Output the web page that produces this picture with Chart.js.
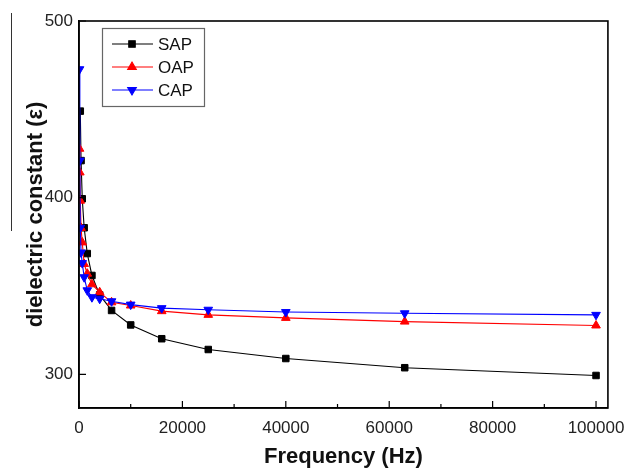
<!DOCTYPE html>
<html>
<head>
<meta charset="utf-8">
<script src="https://cdn.jsdelivr.net/npm/chart.js@4.4.1/dist/chart.umd.min.js"></script>
<style>
    html, body { margin: 0; padding: 0; background: #fff; }
    #wrap { width: 635px; height: 468px; }
</style>
</head>
<body>
<div id="wrap"><canvas id="dielectricChart" width="635" height="468"></canvas></div>
<script>
// frequency sweep (Hz) and dielectric constant per sample
const frequencies = [100, 160, 250, 400, 630, 1000, 1600, 2500, 4000, 6300, 10000, 16000, 25000, 40000, 63000, 100000];
const sapValues = [null, null, 449, 421, 399.4, 383, 368.4, 356, 345, 336.2, 328, 320.2, 314.1, 309, 303.8, 299.4];
const oapValues = [427.7, 414.3, 398.3, 382.9, 374.7, 362.5, 357, 351, 346.5, 340.8, 339, 335.8, 333.7, 332, 329.9, 327.7];
const capValues = [472.7, 421, 383, 369, 363, 355, 347.6, 343.7, 342.8, 341.4, 339.5, 337.5, 336.6, 335.3, 334.6, 333.7];
const seriesNames = ["SAP", "OAP", "CAP"];

const xTickLabels = [0, 20000, 40000, 60000, 80000, 100000];
const xMinorTicks = [10000, 30000, 50000, 70000, 90000];
const yTickLabels = [300, 400, 500];

const fontFamily = 'Arial, "Liberation Sans", sans-serif';

function toPoints(values) {
    return frequencies.map((f, i) => ({ x: f, y: values[i] }));
}

// frame, inward ticks, legend box
const framePlugin = {
    id: "frame",
    afterDraw(chart) {
        const ctx = chart.ctx;
        const a = chart.chartArea;
        const xs = chart.scales.x;
        const ys = chart.scales.y;

        ctx.save();
        ctx.strokeStyle = "#000";
        ctx.lineWidth = 1.6;
        ctx.strokeRect(a.left, a.top, a.right - a.left, a.bottom - a.top);

        ctx.lineWidth = 1.2;
        ctx.beginPath();
        xTickLabels.forEach(v => {
            const px = xs.getPixelForValue(v);
            ctx.moveTo(px, a.bottom);
            ctx.lineTo(px, a.bottom - 7);
        });
        xMinorTicks.forEach(v => {
            const px = xs.getPixelForValue(v);
            ctx.moveTo(px, a.bottom);
            ctx.lineTo(px, a.bottom - 4);
        });
        yTickLabels.forEach(v => {
            const py = ys.getPixelForValue(v);
            ctx.moveTo(a.left, py);
            ctx.lineTo(a.left + 7, py);
        });
        ctx.stroke();

        // stray rule left of the axis title in the original figure
        ctx.strokeStyle = "#333";
        ctx.lineWidth = 1;
        ctx.beginPath();
        ctx.moveTo(11.5, 13);
        ctx.lineTo(11.5, 231);
        ctx.stroke();

        // legend
        ctx.strokeStyle = "#666";
        ctx.lineWidth = 1.2;
        ctx.strokeRect(102.5, 28.5, 102, 78);

        ctx.font = "17px " + fontFamily;
        ctx.textBaseline = "middle";
        ctx.textAlign = "left";
        const rows = [44, 67, 90];
        chart.data.datasets.forEach((ds, i) => {
            const y = rows[i];
            ctx.strokeStyle = ds.borderColor;
            ctx.fillStyle = ds.backgroundColor;
            ctx.lineWidth = 1.1;
            ctx.beginPath();
            ctx.moveTo(112, y);
            ctx.lineTo(153, y);
            ctx.stroke();
            Chart.helpers.drawPoint(ctx, {
                pointStyle: ds.pointStyle,
                radius: ds.pointRadius,
                rotation: ds.pointRotation || 0,
                borderWidth: 1
            }, 132, y);
            ctx.fillStyle = "#111";
            ctx.fillText(ds.label, 158, y + 1);
        });
        ctx.restore();
    }
};

const ctx = document.getElementById("dielectricChart").getContext("2d");

new Chart(ctx, {
    type: "line",
    data: {
        datasets: [
            {
                label: seriesNames[0],
                data: toPoints(sapValues),
                borderColor: "#000000",
                backgroundColor: "#000000",
                pointStyle: "rect",
                pointRadius: 4.6,
                borderWidth: 1.1,
                pointBorderWidth: 1,
                order: 2
            },
            {
                label: seriesNames[1],
                data: toPoints(oapValues),
                borderColor: "#ff0000",
                backgroundColor: "#ff0000",
                pointStyle: "triangle",
                pointRadius: 5,
                borderWidth: 1.1,
                pointBorderWidth: 1,
                order: 1
            },
            {
                label: seriesNames[2],
                data: toPoints(capValues),
                borderColor: "#0000ff",
                backgroundColor: "#0000ff",
                pointStyle: "triangle",
                pointRotation: 180,
                pointRadius: 5,
                borderWidth: 1.1,
                pointBorderWidth: 1,
                order: 0
            }
        ]
    },
    options: {
        responsive: false,
        animation: false,
        devicePixelRatio: 1,
        layout: { padding: { top: 21, right: 27, left: 0, bottom: 0 } },
        plugins: {
            legend: { display: false },
            tooltip: { enabled: false }
        },
        scales: {
            x: {
                type: "linear",
                min: 0,
                max: 102300,
                afterBuildTicks: s => { s.ticks = xTickLabels.map(v => ({ value: v })); },
                afterFit: s => { s.height = 60; },
                grid: { display: false, drawTicks: false },
                border: { display: true, color: "#000", width: 1.6 },
                ticks: {
                    padding: 10,
                    color: "#222",
                    maxRotation: 0,
                    autoSkip: false,
                    font: { family: fontFamily, size: 17 },
                    callback: v => String(v)
                },
                title: {
                    display: true,
                    text: "Frequency (Hz)",
                    color: "#111",
                    padding: 0,
                    font: { family: fontFamily, size: 22, weight: "bold", lineHeight: 1 }
                }
            },
            y: {
                min: 281,
                max: 500,
                afterBuildTicks: s => { s.ticks = yTickLabels.map(v => ({ value: v })); },
                afterFit: s => { s.width = 79; },
                grid: { display: false, drawTicks: false },
                border: { display: true, color: "#000", width: 1.6 },
                ticks: {
                    padding: 6,
                    color: "#222",
                    font: { family: fontFamily, size: 17 },
                    callback: v => String(v)
                },
                title: {
                    display: true,
                    text: "dielectric constant (ε)",
                    color: "#111",
                    padding: { top: 25, bottom: 0 },
                    font: { family: fontFamily, size: 22, weight: "bold", lineHeight: 1 }
                }
            }
        }
    },
    plugins: [framePlugin]
});
</script>
</body>
</html>
